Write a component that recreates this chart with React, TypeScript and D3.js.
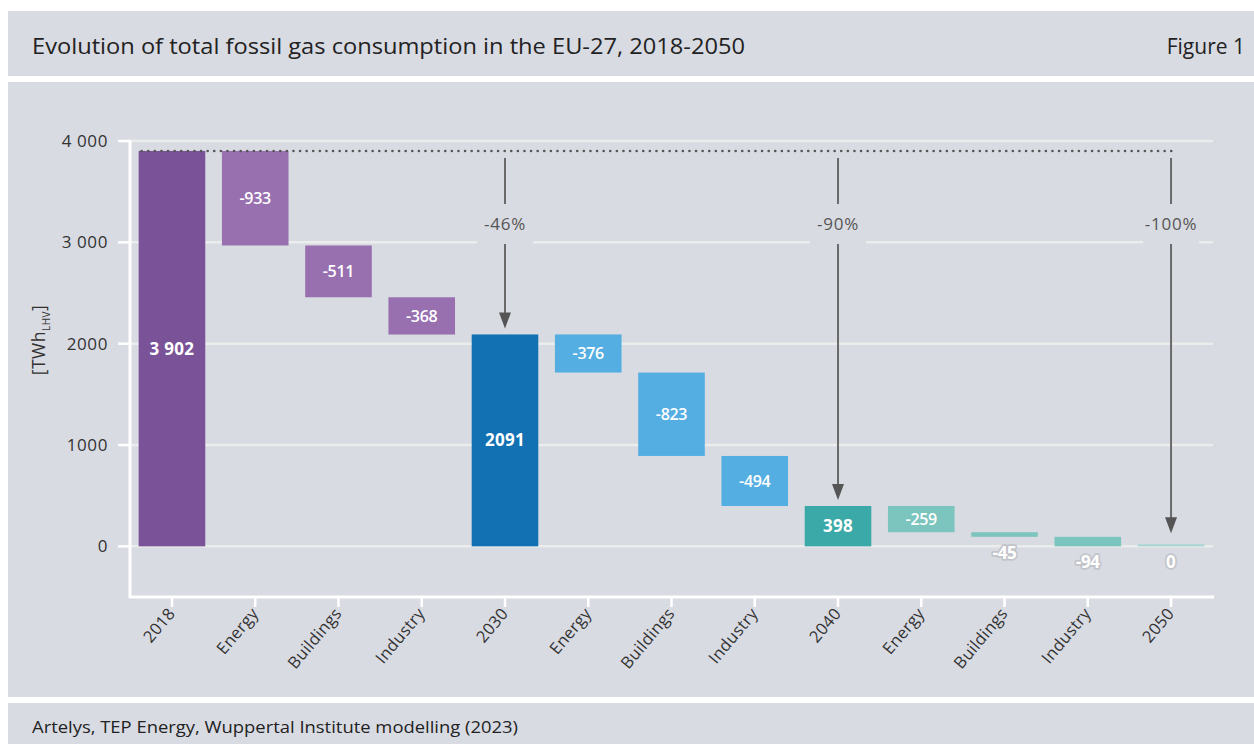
import React from "react";
import * as d3 from "d3";

const categories = ["2018", "Energy", "Buildings", "Industry", "2030", "Energy", "Buildings", "Industry", "2040", "Energy", "Buildings", "Industry", "2050"];
const values = [3902, -933, -511, -368, 2091, -376, -823, -494, 398, -259, -45, -94, 0];
const isTotal = [true, false, false, false, true, false, false, false, true, false, false, false, true];
const groupOf = [0, 0, 0, 0, 1, 1, 1, 1, 2, 2, 2, 2, 2];
const valueLabels = ["3 902", "-933", "-511", "-368", "2091", "-376", "-823", "-494", "398", "-259", "-45", "-94", "0"];
const yTicks = [0, 1000, 2000, 3000, 4000];
const yTickLabels = ["0", "1000", "2000", "3 000", "4 000"];
const arrowTargets = [4, 8, 12];
const arrowLabels = ["-46%", "-90%", "-100%"];

const totalColors = ["#7a5298", "#1171b3", "#3ba9a8", "#a6d6d2"];
const stepColors = ["#9870b0", "#55aee1", "#7cc4be"];

const W = 1254;
const H = 744;
const BG = "#d9dbe2";
const FONT = "'Open Sans', 'Noto Sans', sans-serif";

export default function App() {
  const x = d3.scaleBand<number>().domain(d3.range(categories.length)).range([130, 1213]).paddingInner(0.2).paddingOuter(0.104);
  const y = d3.scaleLinear().domain([-500, 4000]).range([597, 141]);

  let running = 0;
  const bars = values.map((v, i) => {
    let lo: number, hi: number;
    if (isTotal[i]) {
      running = v;
      lo = 0;
      hi = v;
    } else {
      hi = running;
      running = running + v;
      lo = running;
    }
    return { i, v, lo, hi };
  });

  const start = values[0];
  const bw = x.bandwidth();

  return (
    <svg width={W} height={H} style={{ position: "absolute", left: 0, top: 0 }} fontFamily={FONT}>
      <rect x={0} y={0} width={W} height={H} fill="#ffffff" />
      <rect x={8} y={11} width={W - 8} height={65} fill={BG} />
      <rect x={8} y={82} width={W - 8} height={615} fill={BG} />
      <rect x={8} y={703} width={W - 8} height={41} fill={BG} />

      <text x={32} y={54} fontSize={21} fill="#222" textLength={713} lengthAdjust="spacingAndGlyphs">
        Evolution of total fossil gas consumption in the EU-27, 2018-2050
      </text>
      <text x={1245} y={54} fontSize={21} fill="#222" textAnchor="end">
        Figure 1
      </text>
      <text x={32} y={733} fontSize={17} fill="#222" textLength={486} lengthAdjust="spacingAndGlyphs">
        Artelys, TEP Energy, Wuppertal Institute modelling (2023)
      </text>

      {yTicks.map((t) => (
        <line key={"g" + t} x1={130} x2={1213} y1={y(t)} y2={y(t)} stroke="#ebecec" strokeWidth={2.5} />
      ))}
      {yTicks.map((t, k) => (
        <g key={"yt" + t}>
          <line x1={118} x2={131} y1={y(t)} y2={y(t)} stroke="#ffffff" strokeWidth={2.5} />
          <text x={108} y={y(t)} dy="0.35em" textAnchor="end" fontSize={17} fill="#333" letterSpacing={0.6}>
            {yTickLabels[k]}
          </text>
        </g>
      ))}
      <line x1={130} x2={130} y1={y(4000)} y2={598} stroke="#ffffff" strokeWidth={3} />
      <line x1={129} x2={1214} y1={597} y2={597} stroke="#ffffff" strokeWidth={3} />
      {categories.map((c, i) => {
        const cx = (x(i) as number) + bw / 2;
        return (
          <g key={"xt" + i}>
            <line x1={cx} x2={cx} y1={597} y2={607} stroke="#ffffff" strokeWidth={2.5} />
            <text
              transform={`translate(${cx + 4},${614}) rotate(-50)`}
              textAnchor="end"
              fontSize={16.5}
              fill="#333"
              letterSpacing={0.3}
            >
              {c}
            </text>
          </g>
        );
      })}

      <text transform={`translate(45,340) rotate(-90)`} textAnchor="middle" fontSize={17.5} fill="#333" letterSpacing={0.5}>
        [TWh<tspan fontSize={10} dy={5}>LHV</tspan><tspan dy={-5}>]</tspan>
      </text>

      {bars.map((b) => {
        const x0 = x(b.i) as number;
        const yTop = y(b.hi);
        const yBot = y(b.lo);
        let h = yBot - yTop;
        const color = isTotal[b.i]
          ? totalColors[b.i === categories.length - 1 ? 3 : groupOf[b.i]]
          : stepColors[groupOf[b.i]];
        const ty = h < 2 ? yBot - 2 : yTop;
        if (h < 2) h = 2;
        return <rect key={"b" + b.i} x={x0} y={ty} width={bw} height={h} fill={color} />;
      })}

      <line
        x1={(x(0) as number) + 3}
        x2={(x(12) as number) + bw / 2 + 3}
        y1={y(start)}
        y2={y(start)}
        stroke="#555"
        strokeWidth={2.6}
        strokeLinecap="round"
        strokeDasharray="0 6.6"
      />

      {bars.map((b) => {
        const cx = (x(b.i) as number) + bw / 2;
        const hPx = y(b.lo) - y(b.hi);
        const small = hPx < 20;
        const ly = small ? y(b.lo) + 16 : (y(b.lo) + y(b.hi)) / 2;
        return (
          <text
            key={"l" + b.i}
            x={cx}
            y={ly}
            dy="0.35em"
            textAnchor="middle"
            fontSize={isTotal[b.i] || small ? 17 : 16}
            fontWeight={isTotal[b.i] || small ? 700 : 600}
            fill="#ffffff"
            stroke={small ? "#c2c4ca" : "none"}
            strokeWidth={small ? 3.5 : 0}
            strokeLinejoin="round"
            paintOrder="stroke"
            letterSpacing={isTotal[b.i] ? 0.3 : -0.3}
          >
            {valueLabels[b.i]}
          </text>
        );
      })}

      {arrowTargets.map((idx, k) => {
        const cx = (x(idx) as number) + bw / 2;
        const y0 = y(start) + 7;
        const target = bars[idx].hi;
        const tip = y(target) - (target === 0 ? 13 : 6);
        const ly = 224;
        return (
          <g key={"a" + idx}>
            <line x1={cx} x2={cx} y1={y0} y2={tip - 14} stroke="#6a6a6a" strokeWidth={2} />
            <path d={`M${cx - 6},${tip - 16}L${cx + 6},${tip - 16}L${cx},${tip}Z`} fill="#555" />
            <rect x={cx - 28} y={ly - 20} width={56} height={40} fill={BG} />
            <text x={cx} y={ly} dy="0.35em" textAnchor="middle" fontSize={17} fill="#555" letterSpacing={0.8}>
              {arrowLabels[k]}
            </text>
          </g>
        );
      })}
    </svg>
  );
}
